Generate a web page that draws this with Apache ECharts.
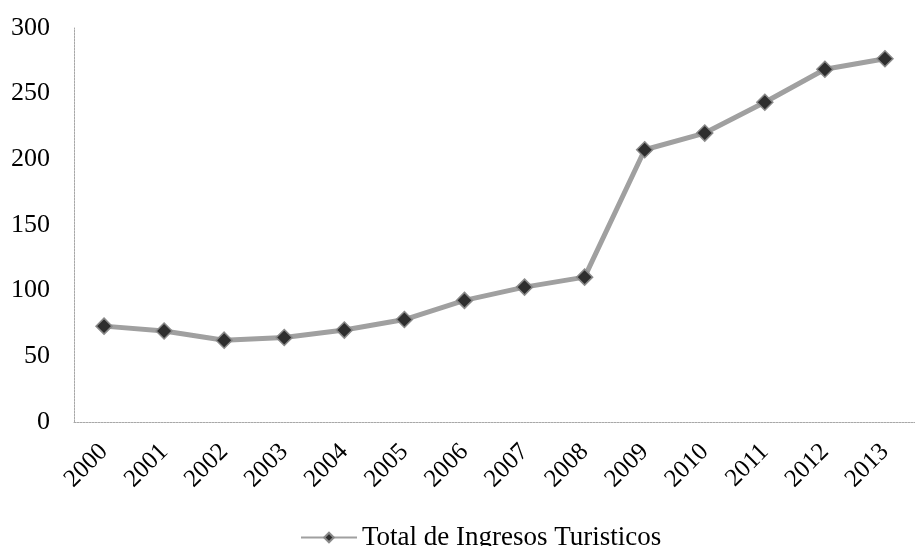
<!DOCTYPE html>
<html>
<head>
<meta charset="utf-8">
<script src="https://cdn.jsdelivr.net/npm/echarts@6/dist/echarts.min.js"></script>
<style>
  html, body { margin: 0; padding: 0; background: #fff; }
  #chart { width: 915px; height: 546px; }
</style>
</head>
<body>
<div id="chart"></div>
<script>
// Years on the category axis
const years = ['2000', '2001', '2002', '2003', '2004', '2005', '2006',
               '2007', '2008', '2009', '2010', '2011', '2012', '2013'];
// Total tourism revenue per year
const ingresos = [73, 69.3, 62.3, 64.3, 70, 78, 92.6,
                  102.7, 110.3, 207.3, 220, 243.5, 268.6, 276.6];
const seriesName = 'Total de Ingresos Turisticos';
const yMin = 0, yMax = 300, yStep = 50;

const serif = '"Liberation Serif", "Times New Roman", serif';
const chart = echarts.init(document.getElementById('chart'), null, { renderer: 'canvas' });

chart.setOption({
  animation: false,
  backgroundColor: '#ffffff',
  grid: { left: 74, top: 28, width: 849, height: 394, containLabel: false },
  legend: {
    data: [seriesName],
    left: 300,
    top: 524,
    padding: 0,
    itemWidth: 56,
    itemHeight: 12,
    itemGap: 4,
    textStyle: { fontFamily: serif, fontSize: 27, color: '#000' }
  },
  xAxis: {
    type: 'category',
    data: years,
    boundaryGap: true,
    axisLine: { show: true, lineStyle: { color: '#a8a8a8', width: 1, type: [2, 1] } },
    axisTick: { show: false },
    axisLabel: {
      rotate: 45,
      margin: 26,
      interval: 0,
      fontFamily: serif,
      fontSize: 25,
      color: '#000'
    },
    splitLine: { show: false }
  },
  yAxis: {
    type: 'value',
    min: yMin,
    max: yMax,
    interval: yStep,
    axisLine: { show: true, lineStyle: { color: '#a8a8a8', width: 1, type: [2, 1] } },
    axisTick: { show: false },
    axisLabel: {
      margin: 24,
      fontFamily: serif,
      fontSize: 26,
      color: '#000'
    },
    splitLine: { show: false }
  },
  series: [{
    name: seriesName,
    type: 'line',
    data: ingresos,
    symbol: 'diamond',
    symbolSize: 16,
    lineStyle: { color: '#a0a0a0', width: 5 },
    itemStyle: { color: '#2e2e2e', borderColor: '#8a8a8a', borderWidth: 1.5 }
  }]
});
</script>
</body>
</html>
